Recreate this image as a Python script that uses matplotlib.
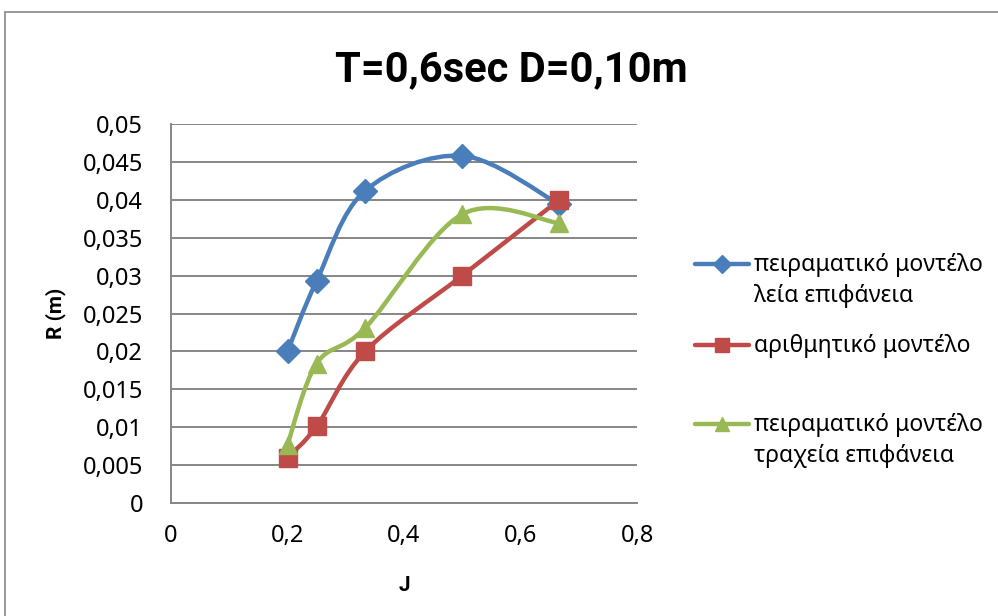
import numpy as np
import matplotlib
matplotlib.use("Agg")
import matplotlib.pyplot as plt
from matplotlib.path import Path
from matplotlib.patches import PathPatch, Rectangle
from matplotlib.lines import Line2D
from matplotlib.ticker import FuncFormatter

# J values and R (m) for each model
j_vals = [0.2, 0.25, 1 / 3, 0.5, 2 / 3]
r_smooth = [0.0200, 0.0293, 0.0412, 0.0458, 0.0394]   # experimental, smooth surface
r_numeric = [0.0060, 0.0101, 0.0200, 0.0300, 0.0400]  # numerical model
r_rough = [0.0077, 0.0184, 0.0231, 0.0381, 0.0369]    # experimental, rough surface

labels = ["πειραματικό μοντέλο\nλεία επιφάνεια",
          "αριθμητικό μοντέλο",
          "πειραματικό μοντέλο\nτραχεία επιφάνεια"]
colors = ["#4A7EBB", "#BE4B48", "#98B954"]
markers = ["D", "s", "^"]
msizes = [12, 13, 13.5]

y_ticks = [0, 0.005, 0.01, 0.015, 0.02, 0.025, 0.03, 0.035, 0.04, 0.045, 0.05]
x_ticks = [0, 0.2, 0.4, 0.6, 0.8]

FONT = ["Noto Sans", "DejaVu Sans"]
BOLD = ["Roboto", "Open Sans", "DejaVu Sans"]
plt.rcParams["font.family"] = FONT


def smooth_path(xs, ys):
    """Catmull-Rom style cubic Bezier through the points (spreadsheet 'smoothed line')."""
    pts = np.column_stack([xs, ys])
    n = len(pts)
    verts = [pts[0]]
    codes = [Path.MOVETO]
    for i in range(n - 1):
        p0 = pts[max(i - 1, 0)]
        p1 = pts[i]
        p2 = pts[i + 1]
        p3 = pts[min(i + 2, n - 1)]
        c1 = p1 + (p2 - p0) / 6.0
        c2 = p2 - (p3 - p1) / 6.0
        verts += [c1, c2, p2]
        codes += [Path.CURVE4] * 3
    return Path(verts, codes)


def comma_fmt(v, pos):
    s = f"{v:.3f}".rstrip("0").rstrip(".")
    return s.replace(".", ",")


fig = plt.figure(figsize=(9.98, 6.16), dpi=100)
fig.patch.set_facecolor("white")

# outer chart frame
fig.add_artist(Rectangle((5 / 998, -0.1), 1.2, 1.1 - 12 / 616,
                         transform=fig.transFigure, fill=False,
                         edgecolor="#868686", linewidth=1.2))

ax = fig.add_axes([171 / 998, 1 - 503 / 616, 466 / 998, 379 / 616])
ax.set_xlim(0, 0.8)
ax.set_ylim(0, 0.05)
ax.set_yticks(y_ticks)
ax.set_xticks(x_ticks)
ax.yaxis.set_major_formatter(FuncFormatter(comma_fmt))
ax.xaxis.set_major_formatter(FuncFormatter(comma_fmt))
ax.grid(axis="y", color="#868686", linewidth=1.4)
ax.set_axisbelow(True)
for side in ["top", "right"]:
    ax.spines[side].set_visible(False)
for side in ["left", "bottom"]:
    ax.spines[side].set_color("#868686")
    ax.spines[side].set_linewidth(1.4)
ax.tick_params(axis="both", labelcolor="black", labelsize=17, length=0)
ax.tick_params(axis="y", pad=20)
ax.tick_params(axis="x", pad=15)

ax.set_ylabel("R (m)", fontsize=15, fontweight="bold", family=BOLD, labelpad=12)
ax.set_xlabel("J", fontsize=15, fontweight="bold", family=BOLD, labelpad=20)

series = [r_smooth, r_numeric, r_rough]
for ys, c, m, ms in zip(series, colors, markers, msizes):
    ax.add_patch(PathPatch(smooth_path(j_vals, ys), facecolor="none",
                           edgecolor=c, linewidth=3.2, capstyle="round",
                           joinstyle="round", zorder=3))
    ax.plot(j_vals, ys, linestyle="none", marker=m, markersize=ms,
            color=c, markeredgecolor=c, zorder=4, clip_on=False)

fig.text(0.5126, 1 - 70 / 616, "T=0,6sec D=0,10m", ha="center", va="center",
         fontsize=30, fontweight="bold", family=BOLD)

# legend to the right of the plot area
leg_rows = [264, 345, 424]
for lab, c, m, ms, yr in zip(labels, colors, markers, msizes, leg_rows):
    yf = 1 - yr / 616
    fig.add_artist(Line2D([695 / 998, 749 / 998], [yf, yf], transform=fig.transFigure,
                          color=c, linewidth=3.2, solid_capstyle="round"))
    fig.add_artist(Line2D([722 / 998], [yf], transform=fig.transFigure, marker=m,
                          markersize=ms * 0.75, color=c, linestyle="none"))
    fig.text(754 / 998, yf + 11 / 616, lab, ha="left", va="top", fontsize=16.5,
             linespacing=1.38)

fig.savefig("out.png", dpi=100, facecolor="white")
